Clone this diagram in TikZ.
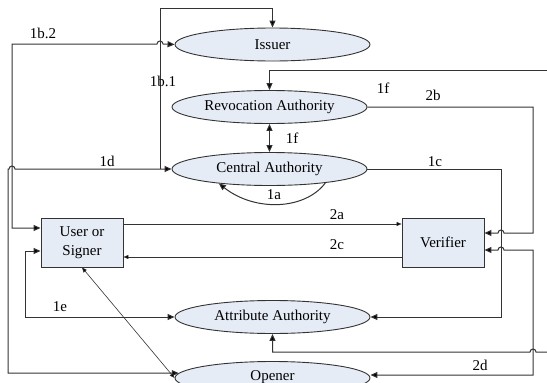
\documentclass[tikz,border=0pt]{standalone}
\usepackage{fontspec}
\setmainfont{Liberation Serif}
\usetikzlibrary{shapes.geometric,arrows.meta}
\definecolor{nodefill}{HTML}{E6ECF6}
\definecolor{linegray}{HTML}{333333}
\tikzset{
  ell/.style={ellipse,draw=linegray,fill=nodefill,line width=0.9pt,minimum width=195pt,minimum height=33pt,inner sep=0pt,font=\rmfamily\fontsize{15}{18}\selectfont},
  box/.style={rectangle,draw=linegray,fill=nodefill,line width=0.9pt,minimum width=82pt,minimum height=49pt,inner sep=0pt,align=center,font=\rmfamily\fontsize{15}{19}\selectfont},
  conn/.style={draw=linegray,line width=1pt},
  thin conn/.style={draw=linegray,line width=0.6pt},
  tipend/.style={-{Triangle[length=7pt,width=6pt,fill=black]}},
  tipboth/.style={{Triangle[length=7pt,width=6pt,fill=black]}-{Triangle[length=7pt,width=6pt,fill=black]}},
  smallend/.style={-{Triangle[length=5pt,width=4pt,fill=black]}},
  smallboth/.style={{Triangle[length=5pt,width=4pt,fill=black]}-{Triangle[length=5pt,width=4pt,fill=black]}},
  lbl/.style={font=\rmfamily\fontsize{15}{18}\selectfont,inner sep=0pt}
}
\begin{document}
\begin{tikzpicture}[x=1pt,y=-1pt]
\useasboundingbox (0,0) rectangle (547,383);
\clip (0,0) rectangle (547,383);
% nodes
\node[ell] (iss) at (272.5,44.5) {Issuer};
\node[ell] (rev) at (269.5,107) {Revocation Authority};
\node[ell] (cen) at (269.5,169) {Central Authority};
\node[ell] (att) at (272.5,317) {Attribute Authority};
\node[ell] (ope) at (272.5,378) {\raisebox{4pt}{Opener}};
\node[box] (user) at (82,242.5) {User or\\Signer};
\node[box] (ver) at (443,242.5) {Verifier};
% helper coordinates
\coordinate (y224) at (0,224);
\coordinate (y228) at (0,228);
\coordinate (y233) at (0,233);
\coordinate (y250) at (0,250);
\coordinate (y251) at (0,251);
\coordinate (y257) at (0,257);
\coordinate (e70) at (548,70);
\coordinate (e352) at (548,352);
% 1b.1
\draw[conn,tipend] (160,169) -- (160,8) -- (iss.north |- 0,8) -- (iss.north);
% 1d  (Central <-> Opener)
\draw[conn,tipboth] (cen.west) -- (15,169) arc[start angle=0,end angle=180,radius=3pt] -- (8,169) -- (8,373) -- (ope.177);
% 1b.2 (User <-> Issuer)
\draw[conn,tipboth] (user.west |- y228) -- (12,228) -- (12,44) -- (157,44) arc[start angle=180,end angle=0,radius=3pt] -- (iss.west);
% 1e
\draw[conn,tipboth] (user.west |- y251) -- (25,251) -- (25,317) -- (att.west);
% user - opener
\draw[thin conn,smallboth] (user.south) -- (ope.west);
% 2a, 2c
\draw[thin conn,smallend] (user.east |- y224) -- (ver.west |- y224);
\draw[thin conn,smallend] (ver.west |- y257) -- (user.east |- y257);
% rev <-> cen
\draw[conn,tipboth] (rev.south) -- (cen.north);
% 1a
\draw[conn,tipend] (cen.-14) .. controls (305,210) and (255,212) .. (cen.196);
% 1c
\draw[conn,tipend] (cen.east) -- (501,169) -- (501,317) -- (att.east);
% 2b
\draw[conn,tipend] (rev.east) -- (533,107) -- (533,233) -- (504,233) arc[start angle=0,end angle=180,radius=3pt] -- (ver.east |- y233);
% 2d
\draw[conn,tipboth] (ver.east |- y250) -- (498,250) arc[start angle=180,end angle=0,radius=3pt] -- (533,250) -- (533,375) -- (ope.east |- 0,375);
% 1f top
\draw[conn,tipend] (e70) -- (rev.north |- e70) -- (rev.north);
% bottom line into attribute
\draw[conn,tipend] (e352) -- (536,352) arc[start angle=0,end angle=180,radius=3pt] -- (att.south |- e352) -- (att.south);
% labels
\node[lbl] (l1) at (43,33) {1b.2};
\node[lbl] (l2) at (163,81) {1b.1};
\node[lbl] (l3) at (107,161) {1d};
\node[lbl] (l4) at (383,88) {1f};
\node[lbl] (l5) at (433,95) {2b};
\node[lbl] (l6) at (292,138) {1f};
\node[lbl] (l7) at (435,162) {1c};
\node[lbl] (l8) at (274,195) {1a};
\node[lbl] (l9) at (337,215) {2a};
\node[lbl] (l10) at (337,245) {2c};
\node[lbl] (l11) at (60,307) {1e};
\node[lbl] (l12) at (480,365) {2d};
\end{tikzpicture}
\end{document}
